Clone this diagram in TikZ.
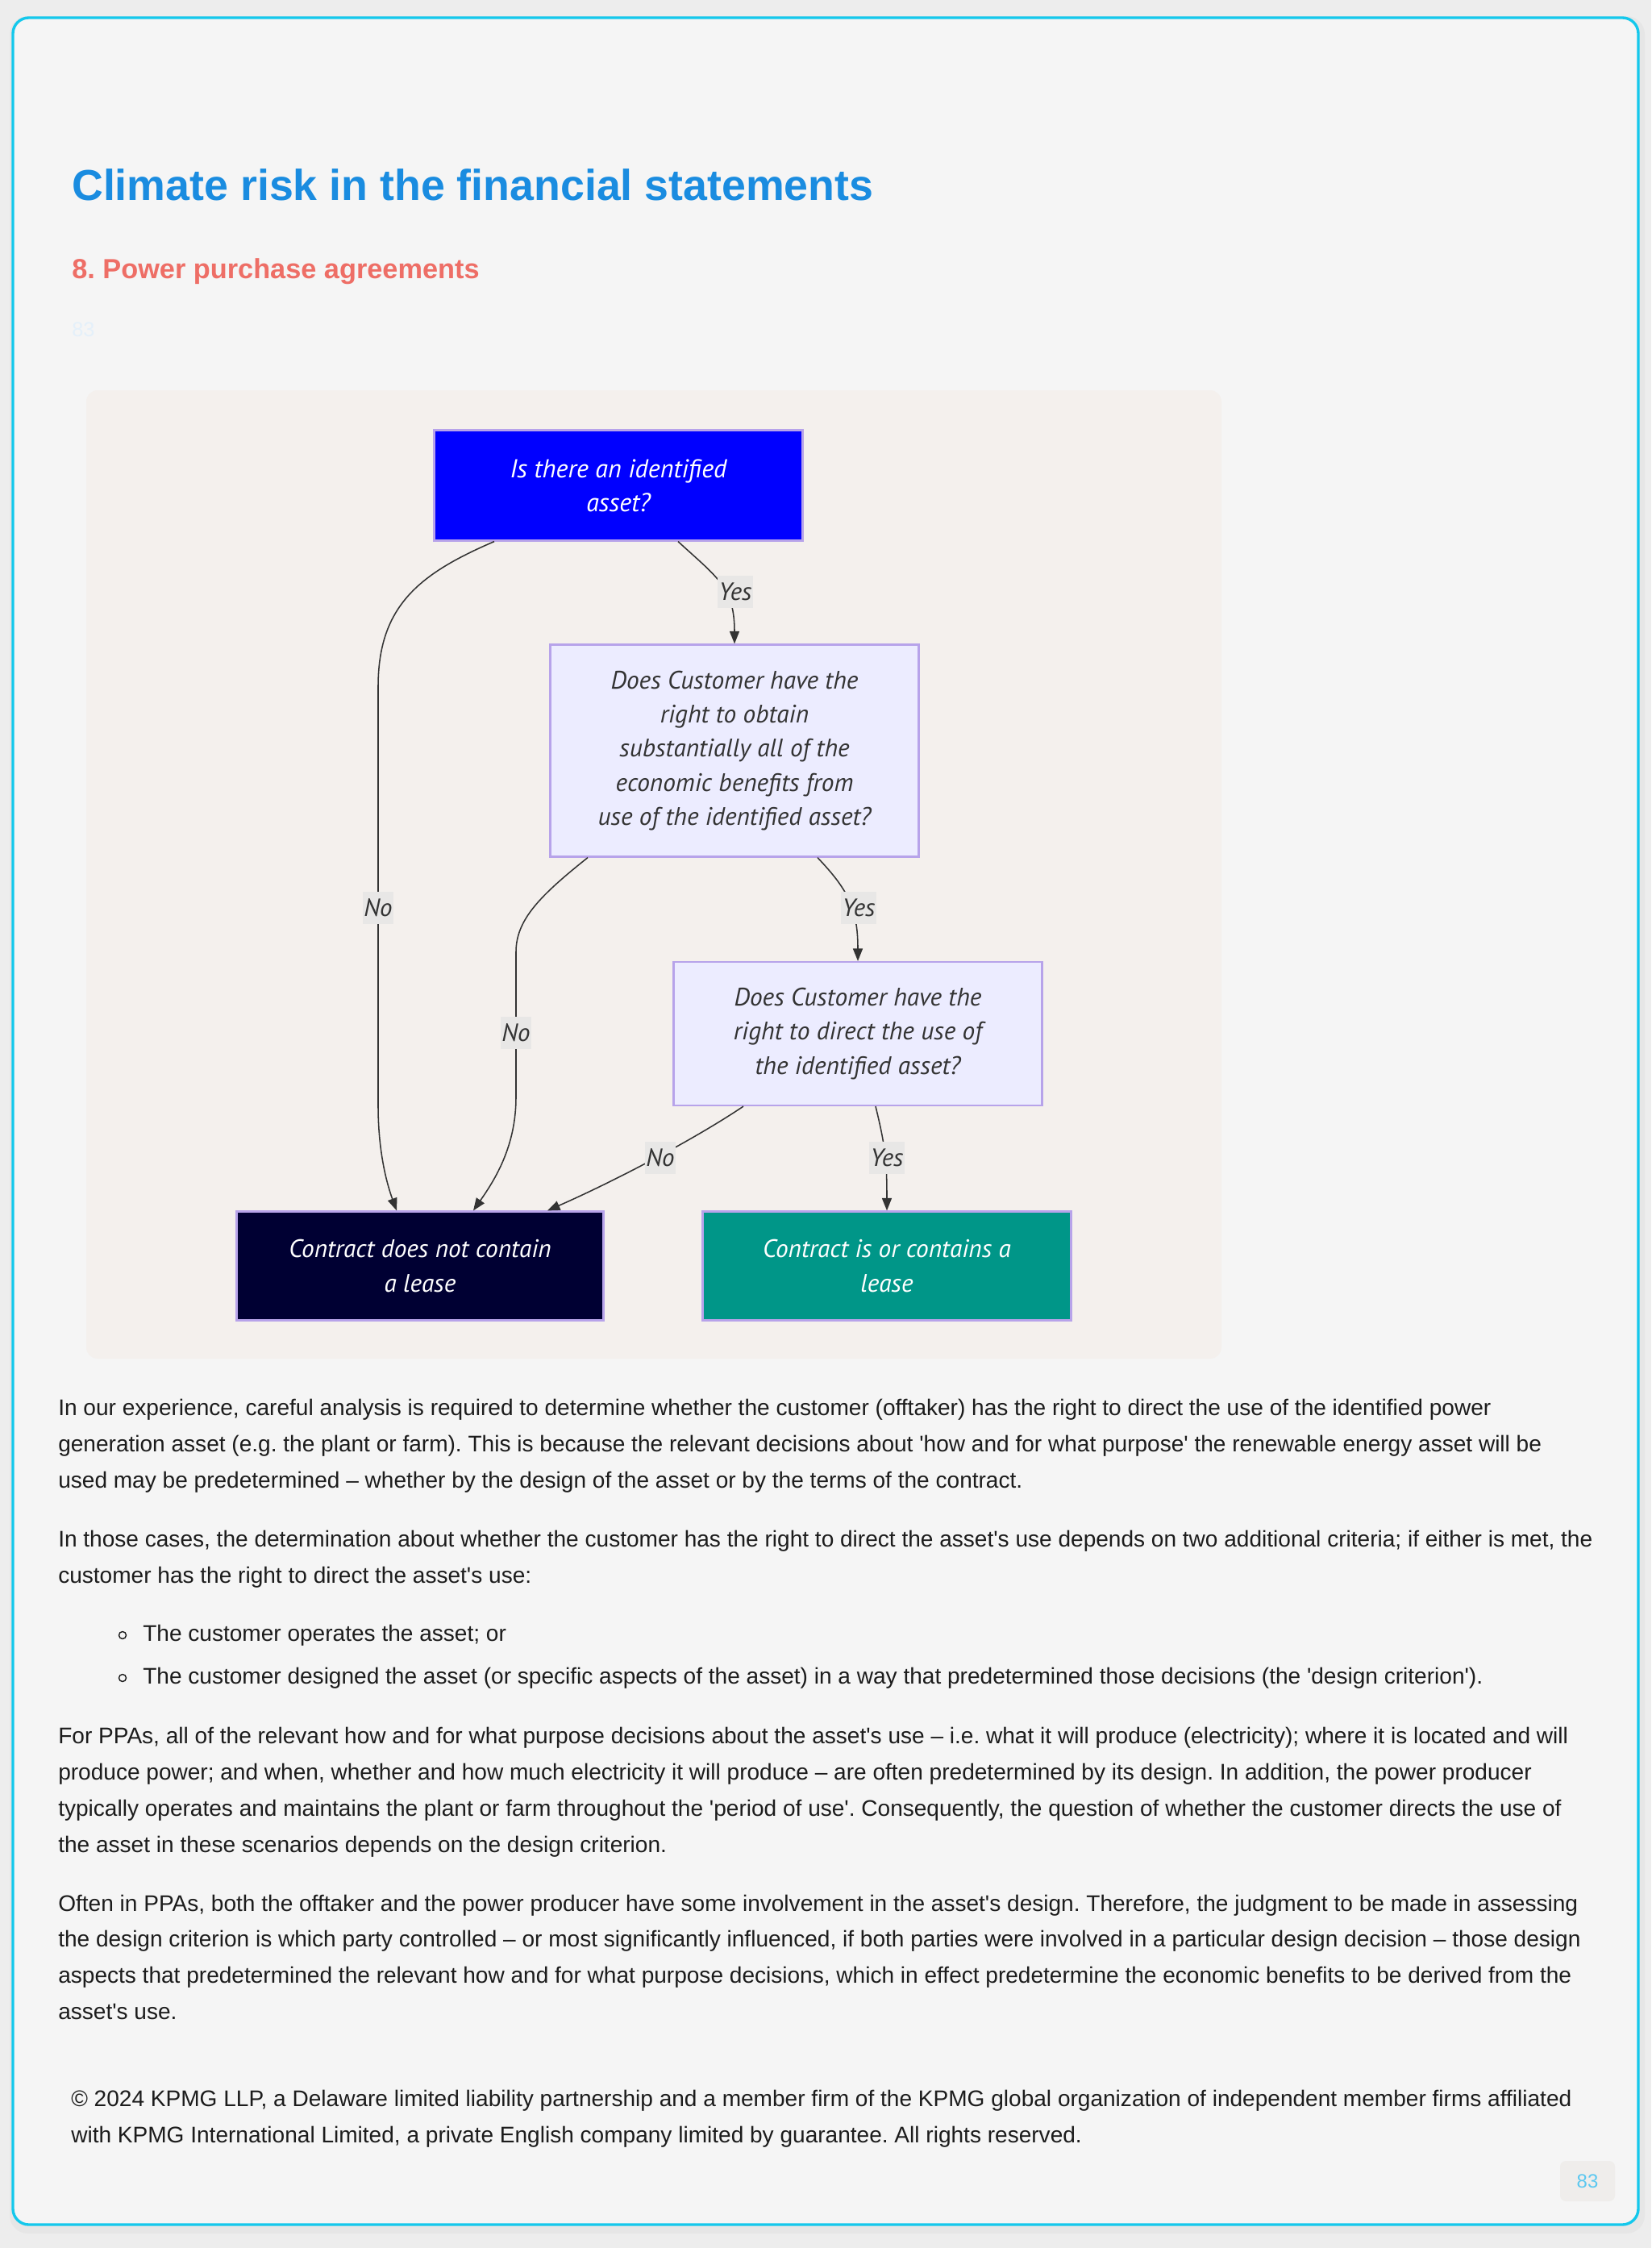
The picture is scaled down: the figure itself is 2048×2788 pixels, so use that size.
\documentclass[tikz,border=0pt]{standalone}
\usepackage{fontspec}
\setmainfont{Liberation Sans}
\newfontfamily\bodyfont{Liberation Sans}
\newfontfamily\flowfont{PT Sans}
\usetikzlibrary{calc}
\usetikzlibrary{arrows.meta}

\definecolor{outerbg}{HTML}{EDEDED}
\definecolor{pagebg}{HTML}{F5F5F5}
\definecolor{pageline}{HTML}{14C8EC}
\definecolor{panelbg}{HTML}{F4F0ED}
\definecolor{titleblue}{HTML}{1A8CE0}
\definecolor{subred}{HTML}{EE6E66}
\definecolor{faintblue}{HTML}{E4F0FA}
\definecolor{bodytext}{HTML}{1C1C1C}
\definecolor{boxline}{HTML}{B7A3EA}
\definecolor{qfill}{HTML}{ECECFF}
\definecolor{qtext}{HTML}{333333}
\definecolor{startfill}{HTML}{0000FF}
\definecolor{nofill}{HTML}{000033}
\definecolor{yesfill}{HTML}{009688}
\definecolor{lblfill}{HTML}{E8E7E6}
\definecolor{edgeline}{HTML}{333333}
\definecolor{pnumfill}{HTML}{EFEDEB}
\definecolor{pnumtext}{HTML}{5CC8F0}

\tikzset{
  qbox/.style={draw=boxline, line width=1.5pt, fill=qfill, text=qtext, align=center,
    minimum width=11.42cm, font=\flowfont\itshape\fontsize{22.3}{30}\selectfont},
  endbox/.style={qbox, text=white},
  flow/.style={draw=edgeline, line width=1.1pt, -{Triangle[length=11pt,width=8.5pt]}},
  lbl/.style={fill=lblfill, text=qtext, inner xsep=1pt, inner ysep=0pt, minimum height=1.02cm,
    font=\flowfont\itshape\fontsize{22}{24}\selectfont},
  body/.style={anchor=base west, inner sep=0pt, text=bodytext, font=\bodyfont\frenchspacing\fontsize{19.95}{24}\selectfont},
}

\begin{document}
\begin{tikzpicture}[x=0.025cm,y=-0.025cm]

% page
\fill[outerbg] (0,0) rectangle (2048,2788);
\useasboundingbox (0,0) rectangle (2048,2788);
\fill[black!12, opacity=0.5, rounded corners=16pt] (12,20) rectangle (2040,2770);
\draw[pageline, line width=2.4pt, fill=pagebg, rounded corners=14pt] (16,22) rectangle (2032,2759);

% headings
\node[anchor=base west, inner sep=0pt, text=titleblue, font=\bodyfont\bfseries\fontsize{38.2}{44}\selectfont] (title) at (89,248) {Climate risk in the financial statements};
\node[anchor=base west, inner sep=0pt, text=subred, font=\bodyfont\bfseries\frenchspacing\fontsize{24.4}{28}\selectfont] (subtitle) at (89,345) {8. Power purchase agreements};
\node[anchor=base west, inner sep=0pt, text=faintblue, font=\bodyfont\fontsize{18}{22}\selectfont] (faint) at (89,417) {83};

% flowchart panel
\fill[panelbg, rounded corners=10pt] (107,484) rectangle (1515,1685);

\node[qbox, fill=startfill, text=white, minimum height=3.425cm, font=\flowfont\itshape\fontsize{22.8}{30}\selectfont] (qa) at (767,602) {Is there an identified\\asset?};
\node[qbox, minimum height=6.575cm] (qb) at (911,931) {Does Customer have the\\right to obtain\\substantially all of the\\economic benefits from\\use of the identified asset?};
\node[qbox, minimum height=4.45cm] (qc) at (1064,1282) {Does Customer have the\\right to direct the use of\\the identified asset?};
\node[endbox, fill=nofill, minimum width=11.37cm, minimum height=3.375cm] (nolease) at (521,1570) {Contract does not contain\\a lease};
\node[endbox, fill=yesfill, minimum height=3.375cm] (lease) at (1100,1570) {Contract is or contains a\\lease};

\draw[flow] ($(qa.south)+(74,0)$) .. controls +(49,45) and +(0,-70) .. (qb.north);
\draw[flow] ($(qa.south)+(-154,0)$) .. controls +(-93,40) and +(0,-100) .. ++(-144,180)
  -- ++(0,520) .. controls +(0,60) and +(-11,-30) .. ($(nolease.north)+(-29,0)$);
\draw[flow] ($(qb.south)+(-182,0)$) .. controls +(-59,47) and +(0,-40) .. ++(-89,117)
  -- ++(0,180) .. controls +(0,60) and +(28,-40) .. ($(nolease.north)+(66,0)$);
\draw[flow] ($(qb.south)+(103,0)$) .. controls +(38,40) and +(0,-65) .. (qc.north);
\draw[flow] ($(qc.south)+(-142,0)$) .. controls +(-61,41) and +(84,-37) .. ($(nolease.north)+(158,0)$);
\draw[flow] ($(qc.south)+(22,0)$) .. controls +(12,49) and +(0,-62) .. (lease.north);

% edge labels
\node[lbl] (l1) at (912,734) {Yes};
\node[lbl] (l2) at (469,1126) {No};
\node[lbl] (l3) at (640,1281) {No};
\node[lbl] (l4) at (1065,1126) {Yes};
\node[lbl] (l5) at (819,1436) {No};
\node[lbl] (l6) at (1100,1436) {Yes};

% text
\node[body] (p1a) at (72,1755) {In our experience, careful analysis is required to determine whether the customer (offtaker) has the right to direct the use of the identified power};
\node[body] (p1b) at (72,1800) {generation asset (e.g. the plant or farm). This is because the relevant decisions about 'how and for what purpose' the renewable energy asset will be};
\node[body] (p1c) at (72,1845) {used may be predetermined – whether by the design of the asset or by the terms of the contract.};

\node[body] (p2a) at (72,1918) {In those cases, the determination about whether the customer has the right to direct the asset's use depends on two additional criteria; if either is met, the};
\node[body] (p2b) at (72,1963) {customer has the right to direct the asset's use:};

\draw[bodytext, line width=1pt] (152,2028) circle (4.5);
\node[body] (b1) at (177,2035) {The customer operates the asset; or};
\draw[bodytext, line width=1pt] (152,2081) circle (4.5);
\node[body] (b2) at (177,2088) {The customer designed the asset (or specific aspects of the asset) in a way that predetermined those decisions (the 'design criterion').};

\node[body] (p3a) at (72,2162) {For PPAs, all of the relevant how and for what purpose decisions about the asset's use – i.e. what it will produce (electricity); where it is located and will};
\node[body] (p3b) at (72,2207) {produce power; and when, whether and how much electricity it will produce – are often predetermined by its design. In addition, the power producer};
\node[body] (p3c) at (72,2252) {typically operates and maintains the plant or farm throughout the 'period of use'. Consequently, the question of whether the customer directs the use of};
\node[body] (p3d) at (72,2297) {the asset in these scenarios depends on the design criterion.};

\node[body] (p4a) at (72,2370) {Often in PPAs, both the offtaker and the power producer have some involvement in the asset's design. Therefore, the judgment to be made in assessing};
\node[body] (p4b) at (72,2414) {the design criterion is which party controlled – or most significantly influenced, if both parties were involved in a particular design decision – those design};
\node[body] (p4c) at (72,2459) {aspects that predetermined the relevant how and for what purpose decisions, which in effect predetermine the economic benefits to be derived from the};
\node[body] (p4d) at (72,2504) {asset's use.};

\node[body] (foot1) at (88,2612) {© 2024 KPMG LLP, a Delaware limited liability partnership and a member firm of the KPMG global organization of independent member firms affiliated};
\node[body] (foot2) at (88,2657) {with KPMG International Limited, a private English company limited by guarantee. All rights reserved.};

% page number
\node[fill=pnumfill, rounded corners=5pt, minimum width=1.7cm, minimum height=1.25cm, text=pnumtext, font=\bodyfont\fontsize{17}{20}\selectfont] (pnum) at (1969,2705) {83};

\end{tikzpicture}
\end{document}
